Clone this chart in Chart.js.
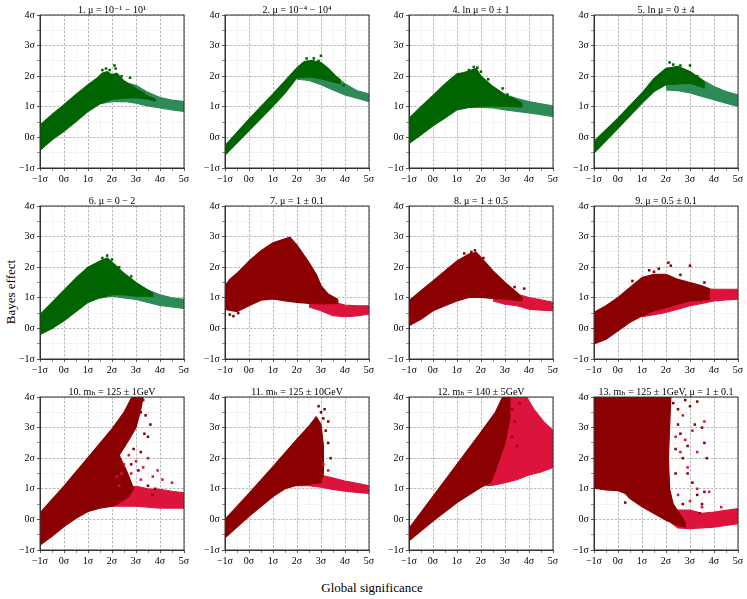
<!DOCTYPE html>
<html>
<head>
<meta charset="utf-8">
<script src="https://cdn.jsdelivr.net/npm/chart.js@4.4.0/dist/chart.umd.min.js"></script>
<style>
  body { margin: 0; background: #fff; width: 747px; height: 599px; position: relative; overflow: hidden; }
  canvas { position: absolute; }
  .lab { position: absolute; font-family: "Liberation Serif", serif; font-size: 13px; color: #000; white-space: nowrap; }
  #ylab { left: 11px; top: 292px; transform: translate(-50%, -50%) rotate(-90deg); }
  #xlab { left: 372px; top: 588px; transform: translate(-50%, -50%); }
</style>
</head>
<body>
<div class="lab" id="ylab">Bayes effect</div>
<div class="lab" id="xlab">Global significance</div>
<script>
// panel titles, in drawing order (4 per row)
var titles = ['1. μ = 10⁻¹ − 10¹', '2. μ = 10⁻⁴ − 10⁴', '4. ln μ = 0 ± 1', '5. ln μ = 0 ± 4',
              '6. μ = 0 − 2', '7. μ = 1 ± 0.1', '8. μ = 1 ± 0.5', '9. μ = 0.5 ± 0.1',
              '10. mₕ = 125 ± 1GeV', '11. mₕ = 125 ± 10GeV', '12. mₕ = 140 ± 5GeV', '13. mₕ = 125 ± 1GeV, μ = 1 ± 0.1'];

var xTicks = [-1, 0, 1, 2, 3, 4, 5];
var yTicks = [-1, 0, 1, 2, 3, 4];

// outlines of the point clouds, [global significance, Bayes effect]
var p1Dark = [[-1,0.4],[-0.5,0.75],[0,1.07],[0.5,1.4],[1,1.72],[1.4,1.95],[1.6,2.1],[1.8,2.15],[2,2.05],[2.2,2.1],[2.5,1.85],[3,1.6],[3.5,1.35],[3.8,1.25],[3.8,1.18],[3.5,1.25],[3,1.3],[2.5,1.28],[2,1.25],[1.5,1.1],[1,0.85],[0.5,0.52],[0,0.2],[-0.5,-0.08],[-1,-0.42]];
var p1Light = [[1.5,1.4],[2,1.7],[2.5,1.8],[3,1.7],[3.5,1.47],[4,1.3],[4.5,1.22],[5,1.17],[5,0.85],[4.5,0.9],[4,0.96],[3.5,1.03],[3,1.12],[2.5,1.18],[2,1.17],[1.5,1.1]];
var p1Dots = [[1.6,2.2],[1.75,2.25],[1.9,2.2],[2.1,2.35],[2.15,2.25],[2.4,2.0],[2.75,1.95],[2.9,1.55],[3.3,1.45]];

var p2Dark = [[-1,-0.27],[0,0.6],[1,1.42],[1.5,1.85],[2,2.28],[2.3,2.48],[2.6,2.52],[3,2.45],[3.3,2.25],[3.6,2.02],[3.8,1.88],[3.8,1.75],[3.3,1.85],[3,1.92],[2.5,1.98],[2,1.95],[1.5,1.45],[1,1.02],[0,0.22],[-1,-0.58]];
var p2Light = [[2,2.2],[2.5,2.35],[3,2.3],[3.5,2.05],[4,1.75],[4.5,1.52],[5,1.42],[5,1.17],[4.5,1.28],[4,1.39],[3.5,1.55],[3,1.72],[2.5,1.86],[2,1.9]];
var p2Dots = [[2.4,2.58],[2.7,2.58],[3,2.67],[2.9,2.5],[3.95,1.7]];

var p4Dark = [[-1,0.62],[-0.5,1.0],[0,1.37],[0.5,1.75],[1,2.08],[1.3,2.12],[1.6,2.2],[1.8,2.25],[2,2.0],[2.5,1.66],[3,1.39],[3.5,1.22],[3.7,1.12],[3.7,1.0],[3,1.01],[2.5,1.02],[2,1.02],[1.5,0.98],[1,0.9],[0.5,0.63],[0,0.38],[-0.5,0.09],[-1,-0.2]];
var p4Light = [[1.5,1.4],[2.5,1.62],[3,1.4],[3.5,1.27],[4,1.17],[4.5,1.1],[5,1.03],[5,0.68],[4.5,0.74],[4,0.8],[3.5,0.85],[3,0.9],[2.5,0.96],[2,0.98],[1.5,0.98]];
var p4Dots = [[1.5,2.2],[1.7,2.3],[1.85,2.28],[2,2.15],[2.3,1.9],[2.9,1.6],[3.1,1.4]];

var p5Dark = [[-1,-0.13],[0,0.63],[1,1.45],[1.5,1.93],[2,2.26],[2.5,2.32],[3,2.15],[3.5,1.88],[3.6,1.78],[3.6,1.62],[3,1.77],[2.5,1.75],[2,1.72],[1.5,1.5],[1,1.12],[0,0.3],[-1,-0.51]];
var p5Light = [[2,2.0],[2.5,2.1],[3,2.1],[3.5,1.88],[4,1.66],[4.5,1.5],[5,1.39],[5,1.01],[4.5,1.12],[4,1.23],[3.5,1.34],[3,1.45],[2.5,1.53],[2,1.55]];
var p5Dots = [[2.15,2.45],[2.3,2.38],[2.6,2.35],[3,2.35],[3.3,2.0]];

var p6Dark = [[-1,0.45],[-0.5,0.85],[0,1.25],[0.5,1.65],[1,2.0],[1.5,2.2],[1.8,2.3],[2.1,2.1],[2.5,1.8],[3,1.5],[3.5,1.25],[3.7,1.15],[3.7,1.05],[3,1.05],[2.5,1.1],[2,1.1],[1.5,1.0],[1,0.85],[0.5,0.55],[0,0.25],[-0.5,0.0],[-1,-0.2]];
var p6Light = [[1.5,1.3],[2.5,1.7],[3,1.45],[3.5,1.25],[4,1.1],[4.5,1.0],[5,0.95],[5,0.65],[4.5,0.7],[4,0.75],[3.5,0.85],[3,0.95],[2.5,1.0],[2,1.05],[1.5,1.0]];
var p6Dots = [[1.6,2.3],[1.8,2.38],[2,2.25],[2.3,2.0],[2.8,1.7]];

var p7Dark = [[-1,1.39],[-0.8,1.6],[-0.5,1.8],[0,2.2],[0.5,2.54],[1,2.8],[1.5,2.93],[1.7,2.98],[2,2.72],[2.5,2.15],[2.8,1.77],[3,1.4],[3.3,1.12],[3.7,0.95],[3.7,0.82],[3,0.8],[2.5,0.82],[2,0.85],[1.5,0.9],[1,0.96],[0.5,0.92],[0,0.74],[-0.5,0.55],[-1,0.62]];
var p7Light = [[2.5,0.88],[3,0.92],[3.5,0.86],[4,0.76],[4.5,0.74],[5,0.74],[5,0.47],[4.5,0.41],[4,0.38],[3.5,0.42],[3,0.58],[2.5,0.7]];
var p7Dots = [[-0.8,0.45],[-0.65,0.4],[-0.45,0.5],[0.2,0.95],[0.65,0.97],[1.15,0.97],[2.6,1.35],[2.8,1.25],[3,1.05],[3.2,1.1]];

var p8Dark = [[-1,0.9],[-0.5,1.23],[0,1.55],[0.5,1.88],[1,2.2],[1.5,2.43],[1.8,2.48],[2,2.32],[2.5,1.88],[3,1.5],[3.5,1.17],[3.7,1.0],[3.7,0.9],[3,0.96],[2.5,0.98],[2,1.01],[1.5,1.01],[1,0.9],[0.5,0.74],[0,0.58],[-0.5,0.3],[-1,0.09]];
var p8Light = [[2.5,1.07],[3,1.17],[3.5,1.12],[4,1.01],[4.5,0.93],[5,0.85],[5,0.58],[4.5,0.6],[4,0.63],[3.5,0.74],[3,0.79],[2.5,0.9]];
var p8Dots = [[1.3,2.45],[1.6,2.5],[1.75,2.55],[2.1,2.3],[3.4,1.35],[3.8,1.3],[0.8,1.0],[1.2,1.05]];

var p9Dark = [[-1,0.52],[-0.5,0.74],[0,1.01],[0.5,1.34],[1,1.66],[1.5,1.77],[2,1.77],[2.5,1.6],[3,1.5],[3.5,1.39],[3.8,1.3],[3.8,0.95],[3,0.9],[2.5,0.8],[2,0.68],[1.5,0.58],[1,0.41],[0.5,0.2],[0,-0.08],[-0.5,-0.35],[-1,-0.51]];
var p9Light = [[1,0.7],[3,1.3],[3.5,1.3],[4,1.28],[4.5,1.28],[5,1.28],[5,0.96],[4.5,0.93],[4,0.9],[3.5,0.82],[3,0.74],[2.5,0.63],[2,0.52],[1.5,0.45],[1,0.38]];
var p9Dots = [[0.6,1.55],[1.3,1.9],[1.5,1.85],[1.7,1.95],[2.1,2.15],[2.2,2.05],[3,2.05],[2.6,1.75],[3.6,1.5]];

var p10Dark = [[-1,0.21],[0,1.09],[1,2.02],[2,2.96],[2.5,3.5],[2.8,3.95],[2.85,4],[3.3,4],[3.2,3.6],[3,3.0],[2.7,2.6],[2.3,2.1],[2.6,1.6],[2.9,1.0],[2.7,0.75],[2.2,0.5],[2,0.43],[1.5,0.37],[1,0.26],[0.5,0.04],[0,-0.23],[-0.5,-0.55],[-1,-0.84]];
var p10Light = [[2,0.9],[2.5,1.0],[3,1.08],[3.5,1.0],[4,0.98],[4.5,0.92],[5,0.87],[5,0.37],[4,0.37],[3,0.43],[2,0.43]];
var p10Dots = [[3,3.3],[3.2,3.5],[3.35,2.8],[3.5,2.7],[3.6,3.1],[2.9,2.3],[3.1,1.6],[3.5,1.1],[3.8,1.0],[2.6,2.6],[3.3,3.9],[3.4,3.4],[2.8,1.8],[3.2,2.2],[3.7,0.8]];
var p10LightDots = [[2.2,1.4],[2.5,1.8],[2.7,2.1],[3,1.9],[3.3,1.7],[3.5,2.0],[3.9,1.6],[4.1,1.3],[4.5,1.2],[2.4,1.5],[2.8,1.5],[3.2,1.3],[2.3,1.1],[3.7,1.4]];

var p11Dark = [[-1,0.0],[0,0.85],[1,1.72],[2,2.62],[2.5,3.05],[2.8,3.35],[3,3.1],[3.1,2.4],[3.1,1.5],[3,1.2],[2.5,1.15],[2,1.12],[1.5,1.0],[1,0.75],[0,0.1],[-1,-0.6]];
var p11Light = [[1.5,1.1],[2,1.3],[2.5,1.35],[3,1.45],[3.5,1.35],[4,1.25],[4.5,1.18],[5,1.1],[5,0.85],[4.5,0.88],[4,0.92],[3.5,0.98],[3,1.05],[2.5,1.1],[2,1.1]];
var p11Dots = [[2.9,3.7],[3,3.5],[3.1,3.3],[3.2,2.9],[3.3,2.5],[3.15,3.6],[3.3,3.2],[3.4,2.0]];
var p11LightDots = [[3.1,1.8],[3.3,1.6]];

var p12Dark = [[-1,-0.3],[0,0.75],[1,1.8],[2,2.85],[2.6,3.5],[2.9,4],[3.2,4],[3.2,3.3],[3,2.5],[2.6,1.6],[2.4,1.2],[2,1.05],[1,0.55],[0,-0.05],[-1,-0.7]];
var p12Light = [[2.2,1.5],[2.8,2.8],[3.1,4],[3.9,4],[4.2,3.6],[4.6,3.2],[5,2.9],[5,1.7],[4.5,1.55],[4,1.45],[3.5,1.3],[3,1.2],[2.5,1.12],[2.2,1.1]];
var p12Dots = [[3.3,3.6],[3.4,3.2],[3.3,2.7],[3.5,2.4],[3.1,3.9],[3.6,3.8]];

var p13Dark = [[-1,4],[2.2,4],[2.15,3],[2.1,2],[2.15,1],[2.3,0.5],[2.8,-0.1],[2.8,-0.25],[2.5,-0.2],[2,-0.03],[1.5,0.19],[1,0.41],[0.5,0.68],[0.3,0.85],[0,0.94],[-0.5,0.96],[-1,1.02]];
var p13Light = [[2.2,0.3],[3,0.3],[3.5,0.2],[4,0.24],[4.5,0.3],[5,0.35],[5,-0.14],[4.5,-0.2],[4,-0.25],[3,-0.3],[2.5,-0.28],[2.2,-0.1]];
var p13Dots = [[2.3,3.8],[2.5,3.6],[2.8,3.9],[3,3.7],[3.2,3.1],[3.5,3.0],[3.6,2.5],[3.7,2.0],[2.6,2.8],[2.9,2.4],[3.1,1.2],[3.3,0.8],[3.6,0.9],[2.4,1.5],[2.7,0.5],[3.4,0.2],[0.3,0.55],[2.5,3.1],[2.7,2.0],[3.3,3.85],[2.4,2.3],[2.9,1.5],[3.5,0.5]];
var p13LightDots = [[2.7,3.4],[3.1,2.9],[2.6,2.2],[2.9,1.7],[3.3,1.0],[3.8,0.9],[4.3,0.4],[2.5,0.8],[3,0.6],[3.5,0.4],[2.4,2.7],[2.8,2.6],[3.6,3.2],[3.3,2.2]];

var green = ['#006400', '#2e8b57'];
var red = ['#8b0000', '#dc143c'];

var panels = [
  [p1Dark, p1Light, p1Dots, [], green],
  [p2Dark, p2Light, p2Dots, [], green],
  [p4Dark, p4Light, p4Dots, [], green],
  [p5Dark, p5Light, p5Dots, [], green],
  [p6Dark, p6Light, p6Dots, [], green],
  [p7Dark, p7Light, p7Dots, [], red],
  [p8Dark, p8Light, p8Dots, [], red],
  [p9Dark, p9Light, p9Dots, [], red],
  [p10Dark, p10Light, p10Dots, p10LightDots, red],
  [p11Dark, p11Light, p11Dots, p11LightDots, red],
  [p12Dark, p12Light, p12Dots, [], red],
  [p13Dark, p13Light, p13Dots, p13LightDots, red]
];

var serif = '"Liberation Serif", "DejaVu Serif", serif';

function pts(a) { return a.map(function (p) { return {x: p[0], y: p[1]}; }); }
function sigma(v) { return (v < 0 ? '\u2212' + (-v) : v) + 'σ'; }
function isMajor(c) { return c.tick && Number.isInteger(c.tick.value); }

var frame = {
  id: 'frame',
  afterDraw: function (chart) {
    var a = chart.chartArea, c = chart.ctx;
    c.save();
    c.strokeStyle = '#333';
    c.lineWidth = 1;
    c.strokeRect(a.left, a.top, a.right - a.left, a.bottom - a.top);
    c.restore();
  }
};

function axis(ticks, pos) {
  return {
    type: 'linear', position: pos, min: ticks[0], max: ticks[ticks.length - 1],
    ticks: {
      stepSize: 0.5, autoSkip: false, maxRotation: 0, minRotation: 0, padding: 2,
      color: '#000', font: {family: serif, size: 10},
      callback: function (v) { return ticks.indexOf(v) >= 0 ? sigma(v) : ''; }
    },
    grid: {
      color: function (c) { return isMajor(c) ? '#a8a8a8' : '#dedede'; },
      lineWidth: 0.8, tickLength: 3,
      tickColor: function (c) { return isMajor(c) ? '#333' : '#777'; }
    },
    border: {
      color: '#333', width: 1,
      dash: function (c) { return isMajor(c) ? [2.5, 1.5] : [1, 1.5]; }
    }
  };
}

panels.forEach(function (p, i) {
  var col = i % 4, row = Math.floor(i / 4);
  var cv = document.createElement('canvas');
  cv.width = 192; cv.height = 189;
  cv.style.width = '192px'; cv.style.height = '189px';
  cv.style.left = Math.round(col * 184.5) + 'px';
  cv.style.top = (row * 191 - 1) + 'px';
  document.body.appendChild(cv);

  var xs = axis(xTicks, 'bottom');
  xs.afterFit = function (s) { s.height = 20; };
  var ys = axis(yTicks, 'left');
  ys.afterFit = function (s) { s.width = 40; };

  var dark = p[4][0], light = p[4][1];
  new Chart(cv, {
    type: 'scatter',
    data: {
      datasets: [
        {data: pts(p[2]), backgroundColor: dark, pointStyle: 'rect', pointRadius: 1.8, borderWidth: 0},
        {data: pts(p[3]), backgroundColor: light, pointStyle: 'rect', pointRadius: 1.8, borderWidth: 0},
        {type: 'line', data: pts(p[0]), fill: 'shape', backgroundColor: dark, borderColor: dark, borderWidth: 1.2, pointRadius: 0, tension: 0},
        {type: 'line', data: pts(p[1]), fill: 'shape', backgroundColor: light, borderColor: light, borderWidth: 1.2, pointRadius: 0, tension: 0}
      ]
    },
    options: {
      responsive: false, animation: false, devicePixelRatio: 1,
      layout: {padding: {left: 0, right: 8, top: 0, bottom: 0}},
      scales: {x: xs, y: ys},
      plugins: {
        legend: {display: false},
        tooltip: {enabled: false},
        title: {
          display: true, fullSize: false, text: titles[i], color: '#000',
          font: {family: serif, size: 10, weight: 'normal', lineHeight: '10px'},
          padding: {top: 6, bottom: 0}
        }
      }
    },
    plugins: [frame]
  });
});
</script>
</body>
</html>
